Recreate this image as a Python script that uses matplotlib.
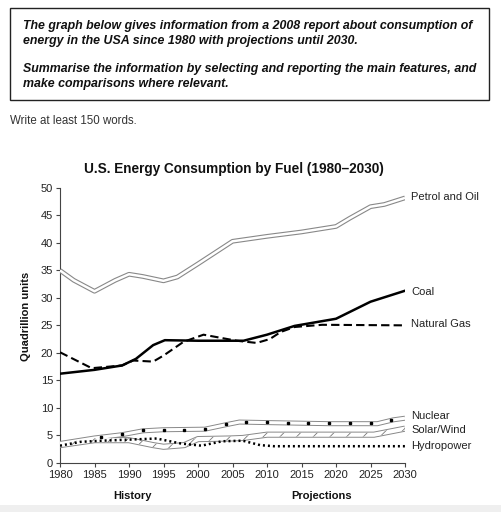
import matplotlib
matplotlib.use('Agg')
import matplotlib.pyplot as plt
from matplotlib.patches import Rectangle

plt.rcParams['font.family'] = ['Liberation Sans', 'DejaVu Sans']
plt.rcParams['hatch.color'] = '#777777'
plt.rcParams['hatch.linewidth'] = 0.6

# 数据
petrol_years = [1980, 1982, 1985, 1988, 1990, 1992, 1995, 1997, 2000, 2005, 2010, 2015, 2020, 2022, 2025, 2027, 2030]
petrol_vals = [35.0, 33.2, 31.2, 33.2, 34.3, 33.9, 33.1, 33.8, 36.2, 40.3, 41.2, 42.0, 43.0, 44.5, 46.6, 47.0, 48.2]

coal_years = [1980, 1985, 1989, 1991, 1993.5, 1995.2, 2000, 2006.6, 2010, 2013, 2014, 2020, 2025, 2030]
coal_vals = [16.2, 16.9, 17.7, 18.9, 21.4, 22.3, 22.2, 22.2, 23.3, 24.5, 24.9, 26.2, 29.3, 31.3]

gas_years = [1980, 1984.6, 1989, 1990.6, 1993.5, 1995, 1997.9, 2000.8, 2005.6, 2008.5, 2010.4, 2012, 2014, 2018, 2030]
gas_vals = [20.1, 17.2, 17.7, 18.6, 18.4, 19.5, 22.0, 23.3, 22.2, 21.8, 22.5, 23.8, 24.7, 25.1, 25.0]

nuclear_years = [1980, 1985, 1989, 1992, 1995, 2001, 2004, 2006, 2010, 2019, 2026, 2028.3, 2030]
nuclear_vals = [3.5, 4.5, 5.1, 5.8, 6.0, 6.1, 6.9, 7.4, 7.3, 7.1, 7.1, 7.8, 8.1]
nuclear_sq_years = [1986, 1989, 1992, 1995, 1998, 2001, 2004, 2007, 2010, 2013, 2016, 2019, 2022, 2025, 2028]
nuclear_sq_vals = [4.7, 5.2, 5.9, 6.0, 6.0, 6.1, 7.0, 7.35, 7.35, 7.3, 7.25, 7.2, 7.2, 7.2, 7.8]

solar_years = [1980, 1985, 1990, 1993.5, 1995, 1998, 2000, 2004.5, 2006.5, 2010, 2025.5, 2030]
solar_vals = [3.2, 4.1, 4.1, 3.2, 2.9, 3.2, 4.3, 4.4, 4.5, 5.1, 5.1, 6.2]

hydro_years = [1980, 1983, 1986, 1990, 1994, 1997.5, 2000.5, 2003.5, 2006.5, 2009, 2011, 2030]
hydro_vals = [3.1, 3.8, 4.0, 4.2, 4.4, 3.5, 3.1, 3.9, 4.0, 3.2, 3.0, 3.0]

x_ticks = [1980, 1985, 1990, 1995, 2000, 2005, 2010, 2015, 2020, 2025, 2030]
y_ticks = [0, 5, 10, 15, 20, 25, 30, 35, 40, 45, 50]

W, H = 501, 512
fig = plt.figure(figsize=(W / 100, H / 100), dpi=100, facecolor='white')

# 题目框
fig.patches.append(Rectangle((10 / W, 1 - 100 / H), 479 / W, 92 / H, transform=fig.transFigure,
                             fill=False, edgecolor='#222222', linewidth=1.0))
prompt_lines = [
    (26, 'The graph below gives information from a 2008 report about consumption of'),
    (41, 'energy in the USA since 1980 with projections until 2030.'),
    (69, 'Summarise the information by selecting and reporting the main features, and'),
    (84, 'make comparisons where relevant.'),
]
for py, txt in prompt_lines:
    fig.text(23 / W, 1 - py / H, txt, fontsize=8.95, fontweight='bold', fontstyle='italic',
             ha='left', va='center', color='#111111')
fig.text(10 / W, 1 - 121 / H, 'Write at least 150 words.', fontsize=8.3, ha='left', va='center', color='#333333')

# 底部灰条
fig.patches.append(Rectangle((0, 0), 1, 7 / H, transform=fig.transFigure, facecolor='#efefef', edgecolor='none'))

ax = fig.add_axes([60 / W, 1 - 462.7 / H, 345 / W, 274.7 / H])
ax.set_xlim(1980, 2030)
ax.set_ylim(0, 50)
for s in ['top', 'right']:
    ax.spines[s].set_visible(False)
for s in ['left', 'bottom']:
    ax.spines[s].set_linewidth(0.8)
    ax.spines[s].set_color('#444444')
ax.set_xticks(x_ticks)
ax.set_yticks(y_ticks)
ax.tick_params(axis='both', labelsize=8, length=3, width=0.8, color='#444444', labelcolor='#222222', pad=2)

# 石油：双线
ax.plot(petrol_years, petrol_vals, color='#888888', linewidth=3.4, solid_capstyle='butt', zorder=3)
ax.plot(petrol_years, petrol_vals, color='white', linewidth=1.8, solid_capstyle='butt', zorder=4)

# 煤炭、天然气
ax.plot(coal_years, coal_vals, color='black', linewidth=1.8, zorder=6)
ax.plot(gas_years, gas_vals, color='black', linewidth=1.5, linestyle=(0, (4, 2)), zorder=5)

# 核能：双线 + 方块
ax.plot(nuclear_years, nuclear_vals, color='#888888', linewidth=3.6, solid_capstyle='butt', zorder=3)
ax.plot(nuclear_years, nuclear_vals, color='white', linewidth=2.2, solid_capstyle='butt', zorder=4)
ax.plot(nuclear_sq_years, nuclear_sq_vals, linestyle='none', marker='s', markersize=2.1, color='black', zorder=5)

# 太阳能/风能：双线 + 斜线
ax.plot(solar_years, solar_vals, color='#888888', linewidth=4.4, solid_capstyle='butt', zorder=3)
ax.plot(solar_years, solar_vals, color='white', linewidth=3.0, solid_capstyle='butt', zorder=4)
ax.fill_between(solar_years, [v - 0.35 for v in solar_vals], [v + 0.35 for v in solar_vals],
                facecolor='none', edgecolor='#777777', hatch='//', linewidth=0, zorder=4.5)

# 水电：点线
ax.plot(hydro_years, hydro_vals, color='black', linewidth=1.8, linestyle=(0, (0.8, 1.2)), zorder=6)

# 线条标签
labels = [('Petrol and Oil', 48.3), ('Coal', 31.0), ('Natural Gas', 25.2),
          ('Nuclear', 8.5), ('Solar/Wind', 5.95), ('Hydropower', 3.0)]
for txt, yv in labels:
    ax.text(2030.9, yv, txt, fontsize=8, ha='left', va='center', color='#222222', clip_on=False)

fig.text(234 / W, 1 - 169 / H, 'U.S. Energy Consumption by Fuel (1980\u20132030)', fontsize=9.8,
         fontweight='bold', ha='center', va='center', color='#111111')
fig.text(26 / W, 1 - 316 / H, 'Quadrillion units', fontsize=8, fontweight='bold', rotation=90,
         ha='center', va='center', color='#111111')
fig.text(132 / W, 1 - 496 / H, 'History', fontsize=8, fontweight='bold', ha='center', va='center', color='#111111')
fig.text(322 / W, 1 - 496 / H, 'Projections', fontsize=8, fontweight='bold', ha='center', va='center', color='#111111')

fig.savefig('out.png', dpi=100, facecolor='white')
